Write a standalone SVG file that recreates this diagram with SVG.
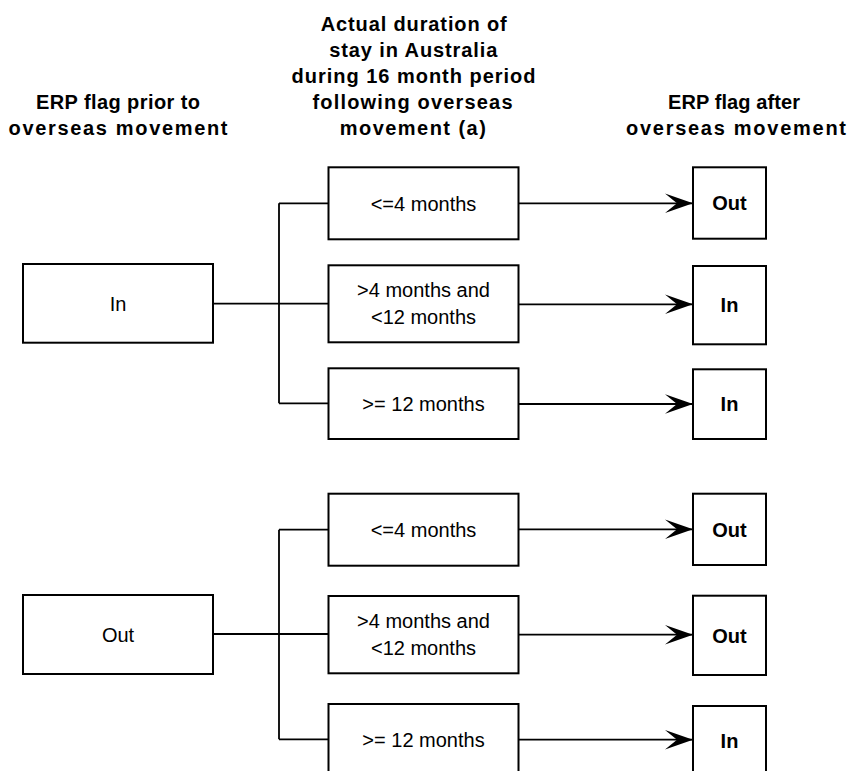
<svg xmlns="http://www.w3.org/2000/svg" width="849" height="771" viewBox="0 0 849 771">
<defs>
<style>
.box{fill:#fff;stroke:#000;stroke-width:2}
.ln{fill:none;stroke:#000;stroke-width:1.8}
.t{font-family:"Liberation Sans",Arial,sans-serif;font-size:20px;fill:#000;text-anchor:middle}
.b{font-weight:bold}
</style>
<marker id="arr" markerUnits="userSpaceOnUse" markerWidth="30" markerHeight="22" refX="28" refY="10" orient="auto">
<path d="M0,0.3 L28,10 L0,19.7 L12,10 Z" fill="#000"/>
</marker>
</defs>
<rect width="849" height="771" fill="#fff"/>
<g id="headers">
<text class="t b" x="118" y="109" textLength="164" lengthAdjust="spacing">ERP flag prior to</text>
<text class="t b" x="118" y="135" textLength="219" lengthAdjust="spacing">overseas movement</text>
<text class="t b" x="413.7" y="30.7" textLength="186" lengthAdjust="spacing">Actual duration of</text>
<text class="t b" x="413.3" y="56.8" textLength="168" lengthAdjust="spacing">stay in Australia</text>
<text class="t b" x="413.5" y="82.9" textLength="244" lengthAdjust="spacing">during 16 month period</text>
<text class="t b" x="412.5" y="109" textLength="200" lengthAdjust="spacing">following overseas</text>
<text class="t b" x="412.8" y="135.1" textLength="146" lengthAdjust="spacing">movement (a)</text>
<text class="t b" x="734" y="109" textLength="132" lengthAdjust="spacing">ERP flag after</text>
<text class="t b" x="736" y="135" textLength="220" lengthAdjust="spacing">overseas movement</text>
</g>
<g id="connectors">
<path class="ln" d="M213,303.7 H328 M279,203.3 V403.3 M279,203.3 H328.5 M279,403.3 H328.5"/>
<path class="ln" d="M518.5,203.3 H693" marker-end="url(#arr)"/>
<path class="ln" d="M518.5,304.3 H693" marker-end="url(#arr)"/>
<path class="ln" d="M518.5,404 H693" marker-end="url(#arr)"/>
<path class="ln" d="M213,634 H328 M279,529.7 V739.3 M279,529.7 H328.5 M279,739.3 H328.5"/>
<path class="ln" d="M518.5,529.3 H693" marker-end="url(#arr)"/>
<path class="ln" d="M518.5,634.7 H693" marker-end="url(#arr)"/>
<path class="ln" d="M518.5,739.7 H693" marker-end="url(#arr)"/>
</g>
<g id="in-prior">
<rect class="box" x="23" y="264" width="190" height="78.7"/>
<text class="t" x="118" y="311">In</text>
</g>
<g id="in-le4">
<rect class="box" x="328.5" y="167.3" width="190" height="72"/>
<text class="t" x="423.5" y="210.5">&lt;=4 months</text>
</g>
<g id="in-4to12">
<rect class="box" x="328.5" y="265.3" width="190" height="77"/>
<text class="t" x="423.5" y="297.4">&gt;4 months and</text>
<text class="t" x="423.5" y="324.1">&lt;12 months</text>
</g>
<g id="in-ge12">
<rect class="box" x="328.5" y="368.3" width="190" height="70.7"/>
<text class="t" x="423.5" y="411">&gt;= 12 months</text>
</g>
<g id="in-res1">
<rect class="box" x="693" y="167.3" width="73" height="71.4"/>
<text class="t b" x="729.5" y="210.3">Out</text>
</g>
<g id="in-res2">
<rect class="box" x="693" y="266" width="73" height="78.3"/>
<text class="t b" x="729.5" y="312">In</text>
</g>
<g id="in-res3">
<rect class="box" x="693" y="369.3" width="73" height="69.7"/>
<text class="t b" x="729.5" y="411.2">In</text>
</g>
<g id="out-prior">
<rect class="box" x="23" y="595" width="190" height="79"/>
<text class="t" x="118" y="641.5">Out</text>
</g>
<g id="out-le4">
<rect class="box" x="328.5" y="493.7" width="190" height="72"/>
<text class="t" x="423.5" y="537">&lt;=4 months</text>
</g>
<g id="out-4to12">
<rect class="box" x="328.5" y="596" width="190" height="77.3"/>
<text class="t" x="423.5" y="628.3">&gt;4 months and</text>
<text class="t" x="423.5" y="655">&lt;12 months</text>
</g>
<g id="out-ge12">
<rect class="box" x="328.5" y="704" width="190" height="71"/>
<text class="t" x="423.5" y="747">&gt;= 12 months</text>
</g>
<g id="out-res1">
<rect class="box" x="693" y="493.7" width="73" height="71.3"/>
<text class="t b" x="729.5" y="536.5">Out</text>
</g>
<g id="out-res2">
<rect class="box" x="693" y="595.7" width="73" height="79.3"/>
<text class="t b" x="729.5" y="642.5">Out</text>
</g>
<g id="out-res3">
<rect class="box" x="693" y="706" width="73" height="70"/>
<text class="t b" x="729.5" y="747.5">In</text>
</g>
</svg>
